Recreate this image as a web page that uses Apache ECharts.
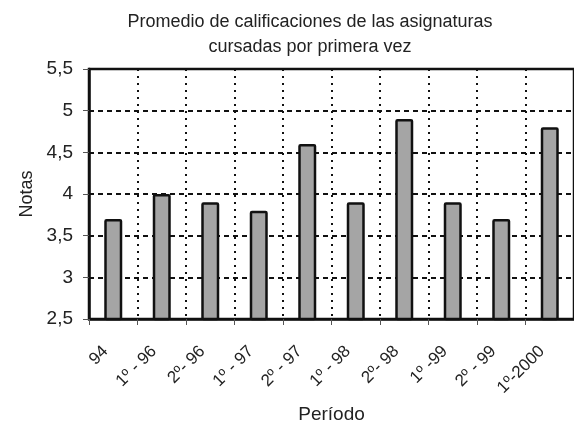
<!DOCTYPE html>
<html><head><meta charset="utf-8">
<script src="https://cdn.jsdelivr.net/npm/echarts@6/dist/echarts.min.js"></script>
<style>html,body{margin:0;padding:0;background:#fff}#c{width:574px;height:429px}</style>
</head><body><div id="c"></div>
<script>
var categories = ["94", "1º - 96", "2º- 96", "1º - 97", "2º - 97", "1º - 98", "2º- 98", "1º -99", "2º - 99", "1º-2000"];
var notas = [3.7, 4.0, 3.9, 3.8, 4.6, 3.9, 4.9, 3.9, 3.7, 4.8];
var titleText = "Promedio de calificaciones de las asignaturas\ncursadas por primera vez";
var yName = "Notas";
var xName = "Período";

var chart = echarts.init(document.getElementById('c'));
var font = "Liberation Sans, Arial, sans-serif";
chart.setOption({
  animation: false,
  title: {
    text: titleText, left: 305, top: 5, textAlign: 'center',
    textStyle: {fontFamily: font, fontSize: 18, fontWeight: 'normal', color: '#222', lineHeight: 25}
  },
  grid: {left: 89, right: -2, top: 69, bottom: 110, show: true, borderColor: '#111', borderWidth: 2.5},
  xAxis: {
    type: 'category', data: categories,
    name: xName, nameLocation: 'middle', nameGap: 86,
    nameTextStyle: {fontFamily: font, fontSize: 19, color: '#222'},
    axisLine: {lineStyle: {color: '#111', width: 2.5}},
    axisTick: {show: true, length: 6, lineStyle: {color: '#555', width: 1}},
    axisLabel: {rotate: 45, fontFamily: font, fontSize: 17, color: '#222', margin: 22, padding: [0, 11, 0, 0]},
    splitLine: {show: true, lineStyle: {color: '#111', width: 2, type: [2, 5]}}
  },
  yAxis: {
    type: 'value', min: 2.5, max: 5.5, interval: 0.5,
    name: yName, nameLocation: 'middle', nameGap: 48, nameRotate: 90,
    nameTextStyle: {fontFamily: font, fontSize: 18, color: '#222'},
    axisLine: {show: true, lineStyle: {color: '#111', width: 2.5}},
    axisTick: {show: true, length: 6, lineStyle: {color: '#555', width: 1}},
    axisLabel: {fontFamily: font, fontSize: 19, color: '#222', margin: 16,
      formatter: function(v){ return String(v).replace('.', ','); }},
    splitLine: {show: true, lineStyle: {color: '#111', width: 2, type: [5, 4]}}
  },
  series: [{
    type: 'bar', data: notas, barWidth: 18,
    itemStyle: {color: '#a5a5a5', borderColor: '#111', borderWidth: 2.5, borderRadius: 1}
  }]
});
</script></body></html>
